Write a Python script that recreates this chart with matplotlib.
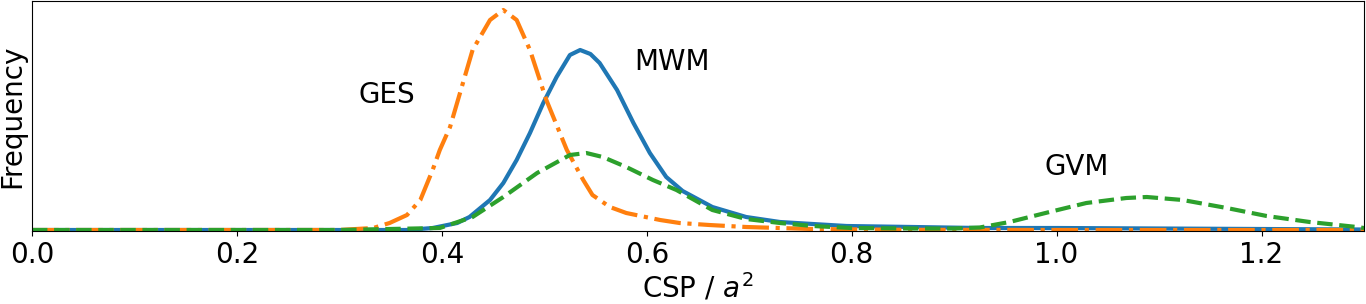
import matplotlib.pyplot as plt

# values (frequency in arbitrary units)
mwm_x = [0.0, 0.2, 0.3, 0.366, 0.391, 0.415, 0.427, 0.447, 0.46, 0.473, 0.486,
         0.499, 0.512, 0.525, 0.535, 0.545, 0.554, 0.571, 0.587, 0.603, 0.619,
         0.635, 0.664, 0.697, 0.73, 0.762, 0.795, 0.86, 0.925, 1.0, 1.1, 1.2, 1.3]
mwm_y = [1, 1, 1, 1, 3, 8, 14, 31, 48, 71, 98,
         128, 154, 176, 181, 177, 168, 141, 108, 78, 54,
         40, 24, 14, 9, 7, 5, 4, 3, 3, 2.5, 2, 1.5]

ges_x = [0.0, 0.2, 0.3, 0.333, 0.349, 0.366, 0.379, 0.391, 0.398, 0.408, 0.43,
         0.447, 0.46, 0.473, 0.486, 0.502, 0.522, 0.538, 0.547, 0.564, 0.58,
         0.613, 0.632, 0.661, 0.697, 0.762, 0.85, 1.0, 1.3]
ges_y = [1, 1, 1, 3, 8, 16, 31, 61, 81, 104, 181,
         211, 221, 211, 181, 131, 81, 51, 36, 24, 18,
         11, 8, 6, 4, 2, 1.2, 1, 1]

gvm_x = [0.0, 0.2, 0.3, 0.398, 0.43, 0.46, 0.493, 0.525, 0.541, 0.557,
         0.58, 0.606, 0.629, 0.664, 0.697, 0.73, 0.762, 0.8, 0.86, 0.9,
         0.925, 0.954, 0.993, 1.029, 1.068, 1.088, 1.123, 1.166, 1.205, 1.247,
         1.293, 1.3]
gvm_y = [1, 1, 1, 3, 14, 34, 58, 76, 78, 74,
         64, 51, 41, 21, 12, 8, 5, 3, 2.5, 2.5,
         3.5, 9, 19, 28, 33, 34, 31, 23, 15, 9,
         4, 3]

plt.switch_backend("AGG")
fig = plt.figure(figsize=(13.66, 3.04), dpi=100)
ax = fig.add_axes([32 / 1366, 1 - 231 / 304, 1332 / 1366, 230 / 304])

ax.plot(mwm_x, mwm_y, color="C0", lw=3, ls="-")
ax.plot(ges_x, ges_y, color="C1", lw=3, ls="-.")
ax.plot(gvm_x, gvm_y, color="C2", lw=3, ls="--")

ax.text(0.346, 136, "GES", fontsize=20, ha="center", va="center")
ax.text(0.625, 169, "MWM", fontsize=20, ha="center", va="center")
ax.text(1.02, 64, "GVM", fontsize=20, ha="center", va="center")

ax.set_xlim(0, 1.3)
ax.set_ylim(0, 230)
ax.set_yticks([])
ax.tick_params(axis="x", labelsize=20)
ax.set_xlabel(r"CSP / $a^2$", fontsize=20, labelpad=2)
ax.set_ylabel("Frequency", fontsize=20, labelpad=4)

plt.savefig("out.png", dpi=100)
